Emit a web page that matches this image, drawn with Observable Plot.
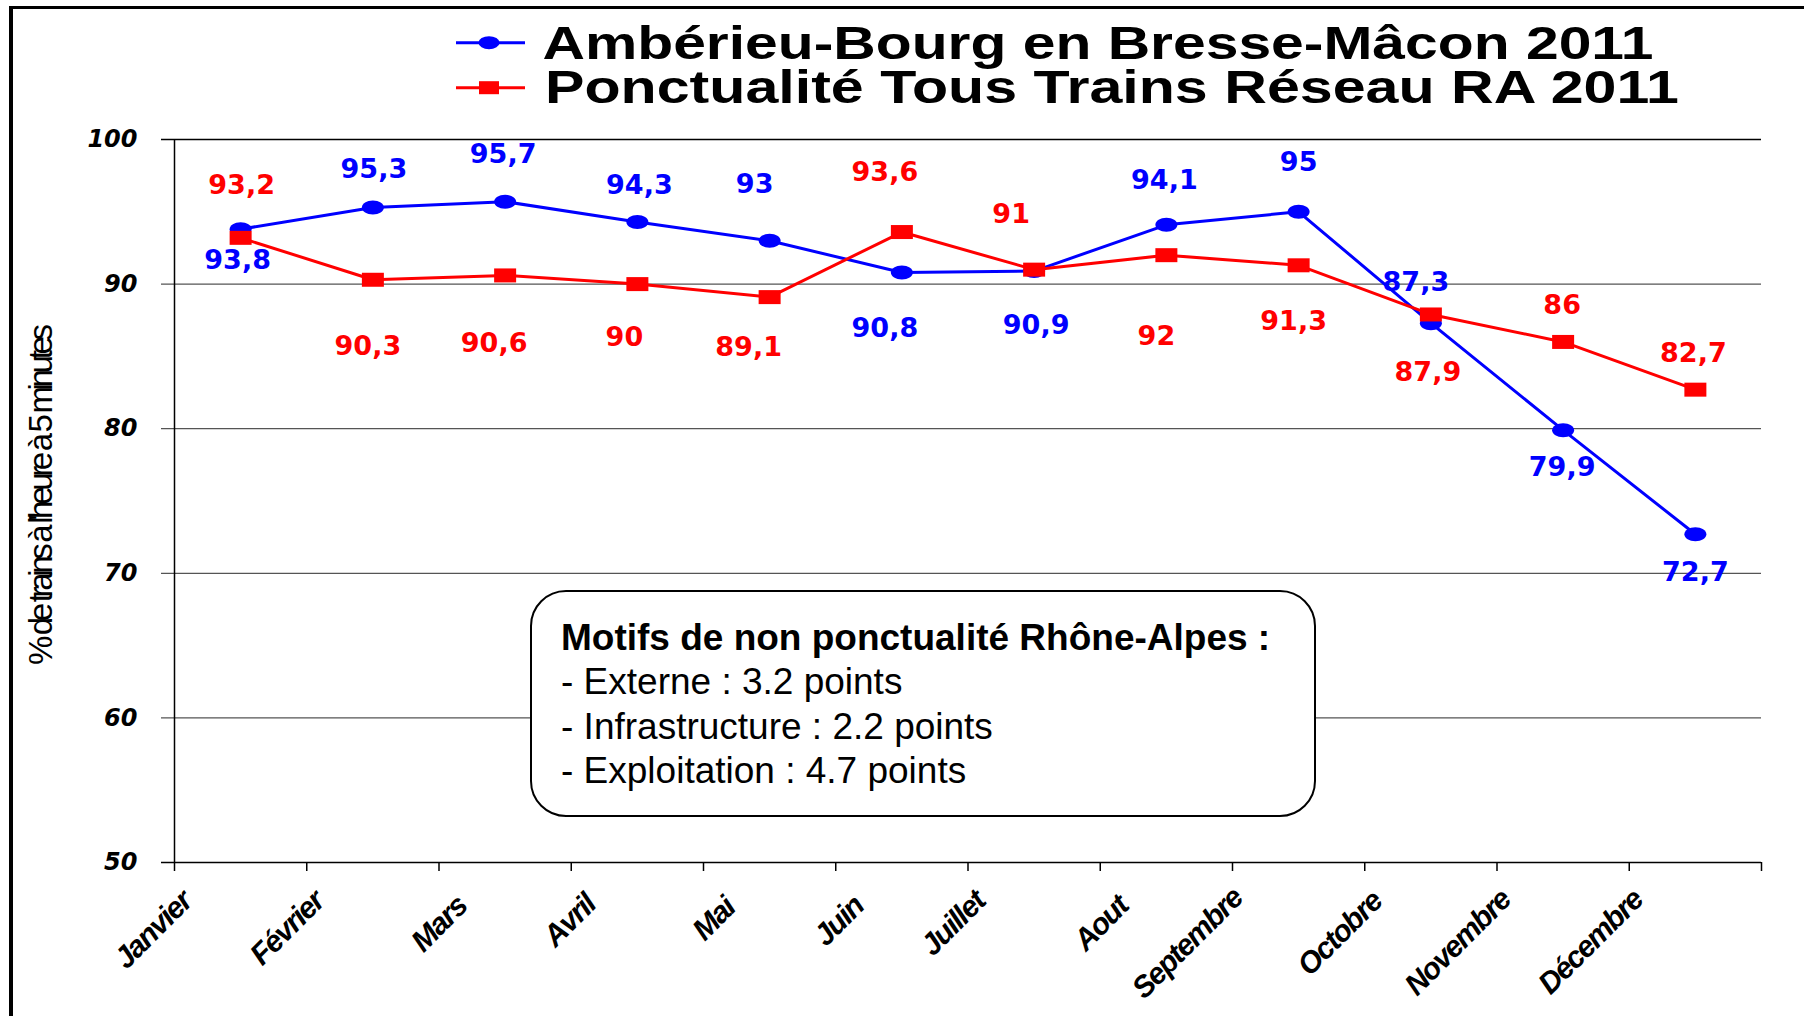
<!DOCTYPE html>
<html>
<head>
<meta charset="utf-8">
<script src="https://cdn.jsdelivr.net/npm/d3@7"></script>
<script src="https://cdn.jsdelivr.net/npm/@observablehq/plot@0.6"></script>
<style>
html, body { margin: 0; padding: 0; background: #fff; }
#wrap { position: relative; width: 1804px; height: 1016px; overflow: hidden; background: #fff; }
#frame { position: absolute; left: 9px; top: 6px; width: 1830px; height: 1040px; box-sizing: border-box;
  border-top: 3.5px solid #000; border-left: 4px solid #000; }
#chart { position: absolute; left: 0; top: 0; }
#overlay { position: absolute; left: 0; top: 0; }
#note { position: absolute; left: 530px; top: 590px; width: 786px; height: 227px; box-sizing: border-box;
  border: 2px solid #000; border-radius: 36px; background: #fff; padding: 24px 0 0 29px;
  font-family: "Liberation Sans", Arial, sans-serif; font-size: 37px; line-height: 44.3px; color: #000; white-space: nowrap; }
#note .t { font-weight: bold; }
</style>
</head>
<body>
<div id="wrap">
  <div id="frame"></div>
  <div id="chart"></div>
  <svg id="overlay" width="1804" height="1016"></svg>
  <div id="note"></div>
</div>
<script>
// ---------- data ----------
const months = ["Janvier", "Février", "Mars", "Avril", "Mai", "Juin", "Juillet", "Aout", "Septembre", "Octobre", "Novembre", "Décembre"];
const blueName = "Ambérieu-Bourg en Bresse-Mâcon 2011";
const redName = "Ponctualité Tous Trains Réseau RA 2011";
const blueValues = [93.8, 95.3, 95.7, 94.3, 93, 90.8, 90.9, 94.1, 95, 87.3, 79.9, 72.7];
const redValues = [93.2, 90.3, 90.6, 90, 89.1, 93.6, 91, 92, 91.3, 87.9, 86, 82.7];
const yTicks = [50, 60, 70, 80, 90, 100];
const yTitle = "% de trains à l'heure à 5 minutes";
const noteTitle = "Motifs de non ponctualité Rhône-Alpes :";
const noteLines = ["- Externe : 3.2 points", "- Infrastructure : 2.2 points", "- Exploitation : 4.7 points"];

// ---------- layout (label offsets in px, dx/dy) ----------
const blueLabelOffsets = [[-3, 31], [1, -38], [-2, -47], [2, -37], [-15, -56], [-17, 56], [2, 54], [-2, -44], [0, -49], [-15, -41], [-1, 37], [0, 38]];
const redLabelOffsets = [[1, -52], [-5, 67], [-11, 68], [-13, 53], [-21, 50], [-17, -60], [-23, -55], [-10, 81], [-5, 56], [-3, 58], [-1, -37], [-2, -36]];

const BLUE = "#0000ff", RED = "#ff0000";
const fmt = v => String(v).replace(".", ",");

const blueData = months.map((m, i) => ({month: m, idx: i, v: blueValues[i]}));
const redData = months.map((m, i) => ({month: m, idx: i, v: redValues[i]}));

function ellipsePath(ctx, rx, ry) {
  const k = 0.5523;
  ctx.moveTo(rx, 0);
  ctx.bezierCurveTo(rx, ry * k, rx * k, ry, 0, ry);
  ctx.bezierCurveTo(-rx * k, ry, -rx, ry * k, -rx, 0);
  ctx.bezierCurveTo(-rx, -ry * k, -rx * k, -ry, 0, -ry);
  ctx.bezierCurveTo(rx * k, -ry, rx, -ry * k, rx, 0);
  ctx.closePath();
}
const ellipseSymbol = {draw(ctx) { ellipsePath(ctx, 11, 7); }};
const rectSymbol = {draw(ctx) { ctx.rect(-11, -7, 22, 14); }};

const xc = d => d.idx + 0.5;
const labelFont = {fontSize: 27, fontWeight: "bold", fontFamily: "DejaVu Sans"};

const marks = [
  // grid lines (extended left as tick marks)
  Plot.ruleY(yTicks.filter(t => t !== 50 && t !== 100), {y: d => d, stroke: "#555", strokeWidth: 1.2, insetLeft: -13}),
  Plot.ruleY([100], {y: d => d, stroke: "#000", strokeWidth: 1.3, insetLeft: -13}),
  Plot.ruleY([50], {y: d => d, stroke: "#000", strokeWidth: 1.6, insetLeft: -13}),
  Plot.ruleX([0], {x: d => d, y1: 50, y2: 100, stroke: "#000", strokeWidth: 1.5}),
  Plot.axisX({ticks: d3.range(13), tickSize: 9, tickFormat: () => "", stroke: "#000", strokeWidth: 1.5}),
  // y tick labels
  Plot.text(yTicks, {y: d => d, text: d => String(d), frameAnchor: "left", textAnchor: "end", dx: -37,
    fontSize: 24, fontWeight: "bold", fontStyle: "italic", fontFamily: "DejaVu Sans", fill: "#000"}),
  // x labels
  ...months.map((m, i) => Plot.text([m], {x: () => i + 0.5, text: d => d, frameAnchor: "bottom",
    rotate: -45, textAnchor: "end", lineAnchor: "bottom",
    dx: -(22 + 3.6 * m.length), dy: 52 - 1.6 * m.length,
    fontSize: 30, fontWeight: "bold", fontStyle: "italic", fontFamily: "Liberation Sans", fill: "#000"})),
  // series
  Plot.line(blueData, {x: xc, y: "v", stroke: BLUE, strokeWidth: 3}),
  Plot.dot(blueData, {x: xc, y: "v", symbol: ellipseSymbol, fill: BLUE, stroke: "none"}),
  Plot.line(redData, {x: xc, y: "v", stroke: RED, strokeWidth: 3}),
  Plot.dot(redData, {x: xc, y: "v", symbol: rectSymbol, fill: RED, stroke: "none"}),
  ...blueData.map((d, i) => Plot.text([d], {x: xc, y: "v", text: e => fmt(e.v), fill: BLUE,
    dx: blueLabelOffsets[i][0], dy: blueLabelOffsets[i][1], ...labelFont})),
  ...redData.map((d, i) => Plot.text([d], {x: xc, y: "v", text: e => fmt(e.v), fill: RED,
    dx: redLabelOffsets[i][0], dy: redLabelOffsets[i][1], ...labelFont}))
];

const chart = Plot.plot({
  width: 1804,
  height: 1016,
  marginLeft: 174,
  marginRight: 43,
  marginTop: 139,
  marginBottom: 154,
  x: {domain: [0, 12], axis: null},
  y: {domain: [50, 100], axis: null},
  style: {background: "transparent", overflow: "visible", fontFamily: "Liberation Sans"},
  marks
});
document.getElementById("chart").appendChild(chart);

// condensed x labels
d3.select(chart).selectAll("text")
  .filter(function() { return months.includes(this.textContent); })
  .attr("letter-spacing", "-1.5");

// ---------- legend + y title overlay ----------
const ov = d3.select("#overlay");
const legend = [
  {name: blueName, color: BLUE, sym: "ellipse", y: 42.7, tx: 542.5, ty: 59.3, len: 1111},
  {name: redName, color: RED, sym: "rect", y: 87.7, tx: 545, ty: 102.7, len: 1134}
];
for (const L of legend) {
  ov.append("line").attr("x1", 456).attr("x2", 525).attr("y1", L.y).attr("y2", L.y)
    .attr("stroke", L.color).attr("stroke-width", 3);
  if (L.sym === "ellipse") {
    ov.append("ellipse").attr("cx", 489).attr("cy", L.y).attr("rx", 10.5).attr("ry", 6.5).attr("fill", L.color);
  } else {
    ov.append("rect").attr("x", 479).attr("y", L.y - 6.5).attr("width", 20).attr("height", 13).attr("fill", L.color);
  }
  ov.append("text").attr("x", L.tx).attr("y", L.ty)
    .attr("font-family", "Liberation Sans").attr("font-weight", "bold").attr("font-size", 46.5)
    .attr("textLength", L.len).attr("lengthAdjust", "spacingAndGlyphs").attr("fill", "#000")
    .text(L.name);
}
ov.append("text")
  .attr("transform", "translate(51.5,494.5) rotate(-90)")
  .attr("text-anchor", "middle")
  .attr("font-family", "Liberation Sans").attr("font-size", 33)
  .attr("textLength", 341).attr("lengthAdjust", "spacing").attr("fill", "#000")
  .text(yTitle);

// ---------- note box ----------
const note = d3.select("#note");
note.append("div").attr("class", "t").text(noteTitle);
for (const l of noteLines) note.append("div").text(l);
</script>
</body>
</html>
